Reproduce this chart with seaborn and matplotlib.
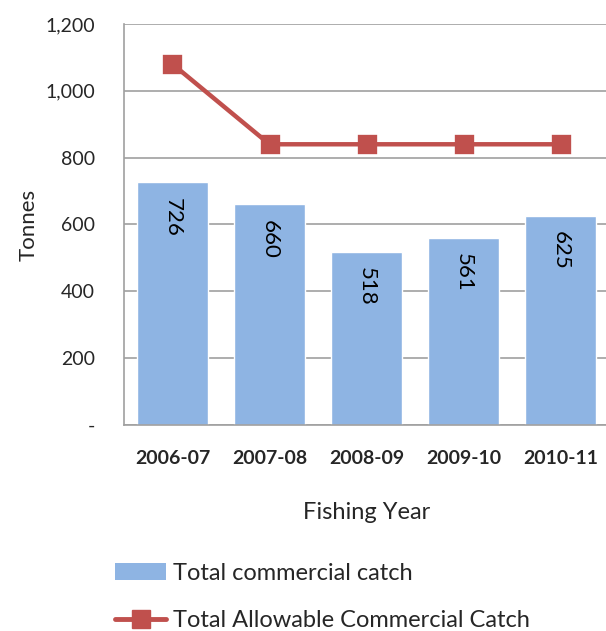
import matplotlib
matplotlib.use("Agg")
import matplotlib.pyplot as plt
import seaborn as sns
from matplotlib.patches import Patch
from matplotlib.lines import Line2D
from matplotlib.ticker import FuncFormatter

years = ["2006-07", "2007-08", "2008-09", "2009-10", "2010-11"]
catch = [726, 660, 518, 561, 625]
tacc = [1080, 840, 840, 840, 840]

bar_color = "#8EB4E3"
line_color = "#C0504D"
grid_color = "#A0A0A0"

sns.set_style("white")
plt.rcParams["font.family"] = ["Lato", "DejaVu Sans"]

fig = plt.figure(figsize=(6.06, 6.31), dpi=100)
ax = fig.add_axes([0.2046, 0.3265, 0.8004, 0.6355])

sns.barplot(x=years, y=catch, color=bar_color, width=0.73, saturation=1, ax=ax, zorder=2)
sns.pointplot(x=years, y=tacc, color=line_color, markers="s", markersize=11,
              linewidth=3.2, ax=ax, zorder=3)

# value labels inside bars, rotated
for i, v in enumerate(catch):
    ax.annotate(str(v), (i, v), xytext=(0, -25), textcoords="offset points",
                rotation=270, ha="center", va="center", fontsize=16, color="black", zorder=4)

ax.set_ylim(0, 1200)
ax.set_yticks(range(0, 1201, 200))
ax.yaxis.set_major_formatter(FuncFormatter(lambda v, p: "-" if v == 0 else f"{int(v):,}"))
ax.set_xlim(-0.5, 4.5)
ax.set_xticks([i - 0.5 for i in range(6)], minor=True)
ax.tick_params(axis="x", which="major", length=0, pad=18, labelsize=14)
ax.tick_params(axis="x", which="minor", length=6, color=grid_color, direction="out")
ax.tick_params(axis="y", length=7, color=grid_color, direction="out", pad=14, labelsize=14)
for lab in ax.get_xticklabels():
    lab.set_fontweight("bold")

ax.yaxis.grid(True, color=grid_color, linewidth=1.2, zorder=0)
ax.set_axisbelow(True)
for s in ["top", "right"]:
    ax.spines[s].set_visible(False)
for s in ["left", "bottom"]:
    ax.spines[s].set_color(grid_color)
    ax.spines[s].set_linewidth(1.2)

ax.set_ylabel("Tonnes", fontsize=16)
ax.yaxis.set_label_coords(-0.175, 0.5)
ax.set_xlabel("Fishing Year", fontsize=17)
ax.xaxis.set_label_coords(0.5, -0.193)

handles = [
    Patch(facecolor=bar_color, edgecolor="none", label="Total commercial catch"),
    Line2D([0], [0], color=line_color, linewidth=3.5, marker="s", markersize=13,
           label="Total Allowable Commercial Catch"),
]
fig.legend(handles=handles, loc="upper left", bbox_to_anchor=(0.19, 0.108), frameon=False,
           fontsize=17, handlelength=2.15, handletextpad=0.3, labelspacing=1.1,
           borderpad=0, borderaxespad=0)

fig.savefig("out.png", dpi=100)
